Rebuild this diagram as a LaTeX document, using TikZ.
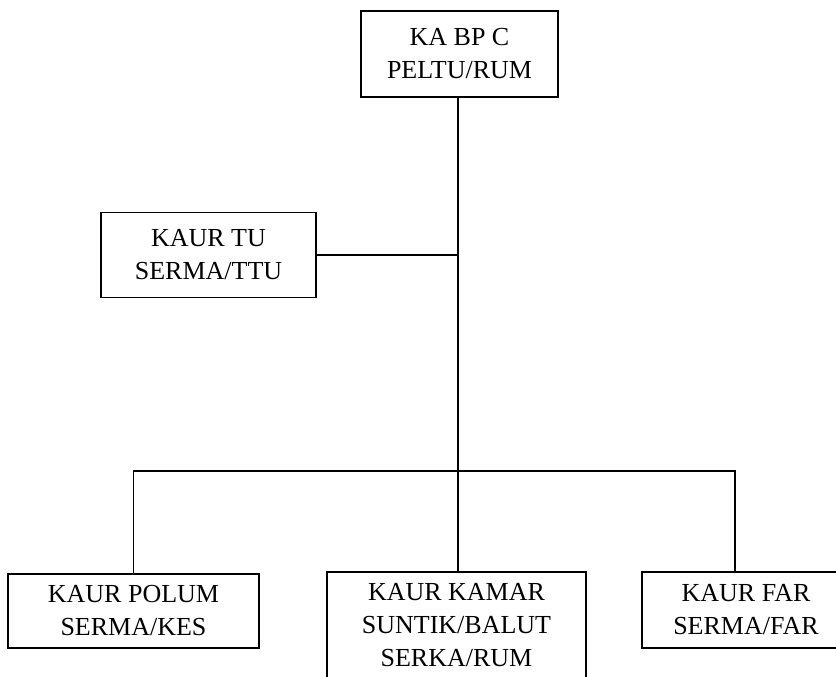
\documentclass[tikz,border=0pt]{standalone}
\usepackage{fontspec}
\setmainfont{Liberation Serif}
\usetikzlibrary{positioning,calc}
\tikzset{unit/.style={draw,line width=0.9pt,align=center,inner sep=0pt,
   font=\fontsize{13}{16.5}\selectfont},
  wire/.style={line width=0.9pt}}
\begin{document}
\begin{tikzpicture}[x=0.5pt,y=-0.5pt]
\useasboundingbox (0,0) rectangle (836,676);
\node[unit,minimum width=197*0.5pt,minimum height=86*0.5pt] (kabpc) at (459.5,54) {KA BP C\\PELTU/RUM};
\node[unit,minimum width=215*0.5pt,minimum height=85*0.5pt] (kaurtu) at (208.5,255) {KAUR TU\\SERMA/TTU};
\node[unit,minimum width=251*0.5pt,minimum height=74*0.5pt] (polum) at (133.5,611) {KAUR POLUM\\SERMA/KES};
\node[unit,minimum width=259*0.5pt,minimum height=106*0.5pt] (kamar) at (456.5,625) {KAUR KAMAR\\SUNTIK/BALUT\\SERKA/RUM};
\node[unit,minimum width=208*0.5pt,minimum height=76*0.5pt] (far) at (746,610) {KAUR FAR\\SERMA/FAR};
% branch points
\coordinate (bus) at (458,471);
\coordinate (farin) at (735,572);
\draw[wire] (kabpc.south -| bus) -- (kamar.north -| bus);
\draw[wire] (kaurtu.east) -- (kaurtu.east -| bus);
\draw[wire] (polum.north) |- (bus) -| (farin);
\end{tikzpicture}
\end{document}
